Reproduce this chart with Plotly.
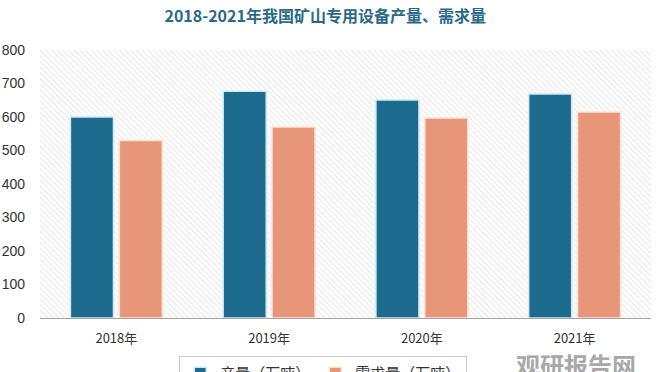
import plotly.graph_objects as go

categories = ["2018年", "2019年", "2020年", "2021年"]
production = [600, 677, 651, 669]
demand = [530, 570, 597, 615]
series_names = ["产量（万吨）", "需求量（万吨）"]
y_ticks = [0, 100, 200, 300, 400, 500, 600, 700, 800]

font_cn = "Noto Sans CJK SC, Liberation Sans, sans-serif"

fig = go.Figure()

# hatched plot background (decoration on base axes)
fig.add_trace(go.Bar(
    x=[0], y=[800], width=[1], xaxis="x", yaxis="y",
    marker=dict(color="white", line=dict(width=0),
                pattern=dict(shape="\\", fgcolor="#d4d4d4", bgcolor="white", size=4, solidity=0.3)),
    showlegend=False, hoverinfo="skip",
))

fig.add_trace(go.Bar(
    x=categories, y=production, name=series_names[0], xaxis="x2", yaxis="y2",
    marker=dict(color="#1c6a8e", line=dict(color="#cfe9f5", width=1.5)),
))
fig.add_trace(go.Bar(
    x=categories, y=demand, name=series_names[1], xaxis="x2", yaxis="y2",
    marker=dict(color="#e8967a", line=dict(color="#fbe3d3", width=1.5)),
))

fig.update_layout(
    width=657, height=372,
    margin=dict(l=40, r=6, t=50, b=54, autoexpand=False),
    paper_bgcolor="white", plot_bgcolor="white",
    barmode="group", bargap=0.36, bargroupgap=0.12,
    title=dict(text="<b>2018-2021年我国矿山专用设备产量、需求量</b>",
               x=0.495, xanchor="center", y=0.955, yanchor="middle",
               font=dict(family=font_cn, size=16, color="#2a6a88")),
    xaxis=dict(range=[-0.5, 0.5], visible=False, fixedrange=True),
    yaxis=dict(range=[0, 800], visible=False),
    xaxis2=dict(overlaying="x", showline=True, linecolor="#a6a6a6", linewidth=1,
                ticks="", tickfont=dict(family=font_cn, size=13, color="#333333"),
                ticklabelstandoff=8),
    yaxis2=dict(overlaying="y", range=[0, 800], tickvals=y_ticks, showgrid=False,
                zeroline=False, showline=False, ticks="",
                ticklabelstandoff=14,
                tickfont=dict(family="Liberation Sans, sans-serif", size=14, color="#333333")),
    legend=dict(orientation="h", x=0.228, xanchor="left", y=-0.142, yanchor="top",
                bordercolor="#c8c8c8", borderwidth=1,
                font=dict(family=font_cn, size=15, color="#333333")),
    annotations=[dict(text="<b>观研报告网</b>", xref="paper", yref="paper",
                      x=0.775, y=-0.1, xanchor="left", yanchor="top", showarrow=False,
                      font=dict(family=font_cn, size=24, color="#a8a8a8"))],
)

fig.write_html("out.html")
